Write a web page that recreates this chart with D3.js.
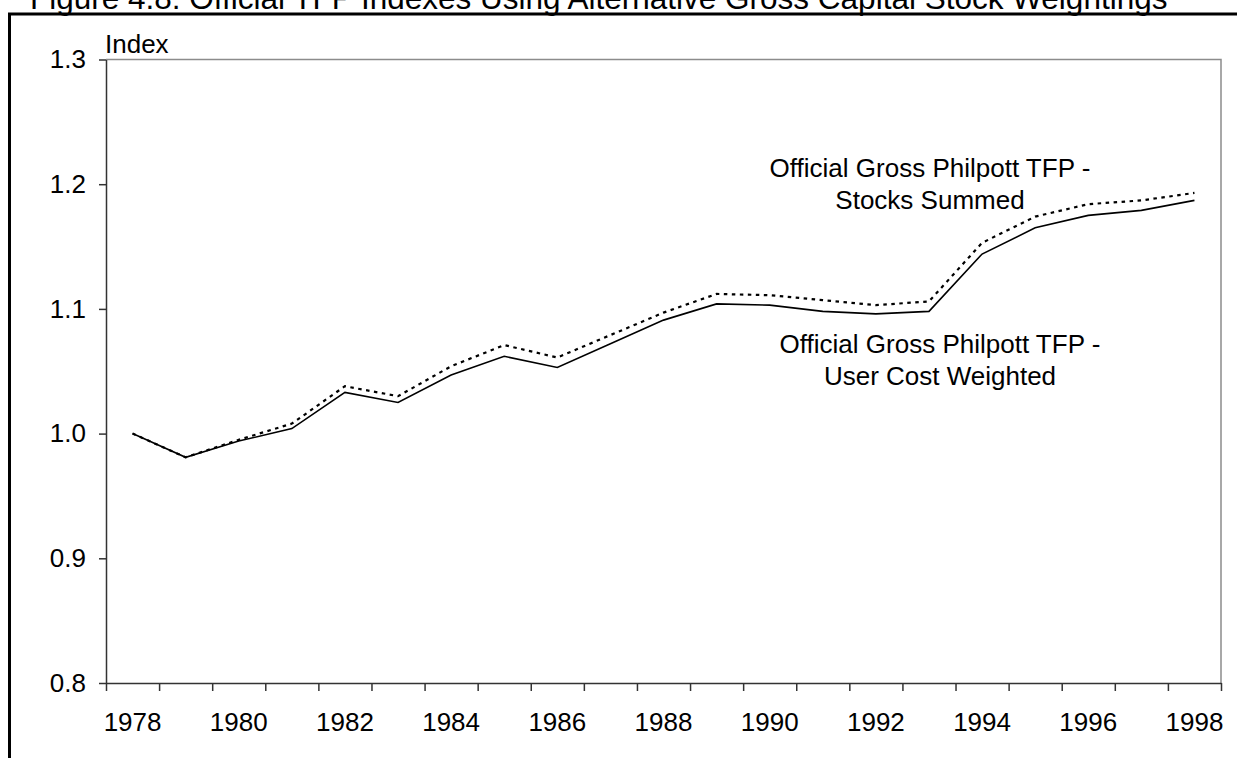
<!DOCTYPE html>
<html>
<head>
<meta charset="utf-8">
<script src="https://cdn.jsdelivr.net/npm/d3@7"></script>
<style>
  body { margin: 0; background: #fff; }
  svg text { font-family: "Liberation Sans", Arial, sans-serif; fill: #000; }
</style>
</head>
<body>
<div id="chart"></div>
<script>
// Chart data
const years = d3.range(1978, 1999);
const yearLabels = [1978, 1980, 1982, 1984, 1986, 1988, 1990, 1992, 1994, 1996, 1998];
const yTicks = [0.8, 0.9, 1.0, 1.1, 1.2, 1.3];

const userCostWeighted = [1.000, 0.981, 0.994, 1.004, 1.033, 1.025, 1.047, 1.062, 1.053, 1.072, 1.091,
  1.104, 1.103, 1.098, 1.096, 1.098, 1.144, 1.165, 1.175, 1.179, 1.187];
const stocksSummed = [1.000, 0.981, 0.995, 1.008, 1.038, 1.030, 1.054, 1.071, 1.061, 1.079, 1.097,
  1.112, 1.111, 1.107, 1.103, 1.106, 1.153, 1.174, 1.184, 1.187, 1.193];

const width = 1237;
const height = 758;
const margin = { top: 59.5, right: 16, bottom: 75, left: 106 };

const svg = d3.select('#chart')
  .append('svg')
  .attr('width', width)
  .attr('height', height);

// Title (partly cut off at the top in the original)
svg.append('text')
  .attr('x', 30)
  .attr('y', 9)
  .attr('font-size', '31.5px')
  .text('Figure 4.8: Official TFP Indexes Using Alternative Gross Capital Stock Weightings');

// Outer frame
svg.append('rect')
  .attr('x', 9.5)
  .attr('y', 14)
  .attr('width', width + 20)
  .attr('height', height + 20)
  .attr('fill', 'none')
  .attr('stroke', '#000')
  .attr('stroke-width', 3);

const x0 = margin.left;
const x1 = width - margin.right;
const y0 = height - margin.bottom;
const y1 = margin.top;

const x = d3.scaleBand().domain(years).range([x0, x1]).padding(0);
const xEdge = d3.scaleLinear().domain([0, years.length]).range([x0, x1]);
const y = d3.scaleLinear().domain([0.8, 1.3]).range([y0, y1]);

// Plot border top/right
svg.append('path')
  .attr('d', `M${x0},${y1}H${x1}V${y0}`)
  .attr('fill', 'none')
  .attr('stroke', '#8c8c8c')
  .attr('stroke-width', 1.5);

// Y axis
const yAxis = svg.append('g')
  .attr('transform', `translate(${x0},0)`)
  .call(d3.axisLeft(y).tickValues(yTicks).tickFormat(d3.format('.1f'))
    .tickSizeInner(7).tickSizeOuter(0).tickPadding(13));
yAxis.selectAll('text').attr('font-size', '26px').attr('font-family', null);
yAxis.selectAll('line, path').attr('stroke', '#333').attr('stroke-width', 1.5);

// X axis tick marks at category boundaries
const xTicks = svg.append('g')
  .attr('transform', `translate(0,${y0})`)
  .call(d3.axisBottom(xEdge).tickValues(d3.range(years.length + 1)).tickFormat('')
    .tickSizeInner(8).tickSizeOuter(0));
xTicks.selectAll('line, path').attr('stroke', '#333').attr('stroke-width', 1.5);

// X axis labels centred on categories
const xLabels = svg.append('g')
  .attr('transform', `translate(0,${y0})`)
  .call(d3.axisBottom(x).tickValues(yearLabels).tickSize(0).tickPadding(29.5));
xLabels.select('.domain').remove();
xLabels.selectAll('text').attr('font-size', '26px').attr('font-family', null);

// Axis caption
svg.append('text')
  .attr('x', 105)
  .attr('y', 53)
  .attr('font-size', '26px')
  .text('Index');

const line = d3.line()
  .x((d, i) => x(years[i]) + x.bandwidth() / 2)
  .y(d => y(d));

svg.append('path')
  .datum(stocksSummed)
  .attr('d', line)
  .attr('fill', 'none')
  .attr('stroke', '#000')
  .attr('stroke-width', 2.2)
  .attr('stroke-dasharray', '3.5,4.5');

svg.append('path')
  .datum(userCostWeighted)
  .attr('d', line)
  .attr('fill', 'none')
  .attr('stroke', '#000')
  .attr('stroke-width', 1.6);

// Series labels
const seriesLabels = [
  { lines: ['Official Gross Philpott TFP -', 'Stocks Summed'], x: 930, y: 177 },
  { lines: ['Official Gross Philpott TFP -', 'User Cost Weighted'], x: 940, y: 353 }
];

seriesLabels.forEach(lbl => {
  const t = svg.append('text')
    .attr('text-anchor', 'middle')
    .attr('font-size', '26px');
  lbl.lines.forEach((s, i) => {
    t.append('tspan')
      .attr('x', lbl.x)
      .attr('y', lbl.y + i * 31.5)
      .text(s);
  });
});
</script>
</body>
</html>
